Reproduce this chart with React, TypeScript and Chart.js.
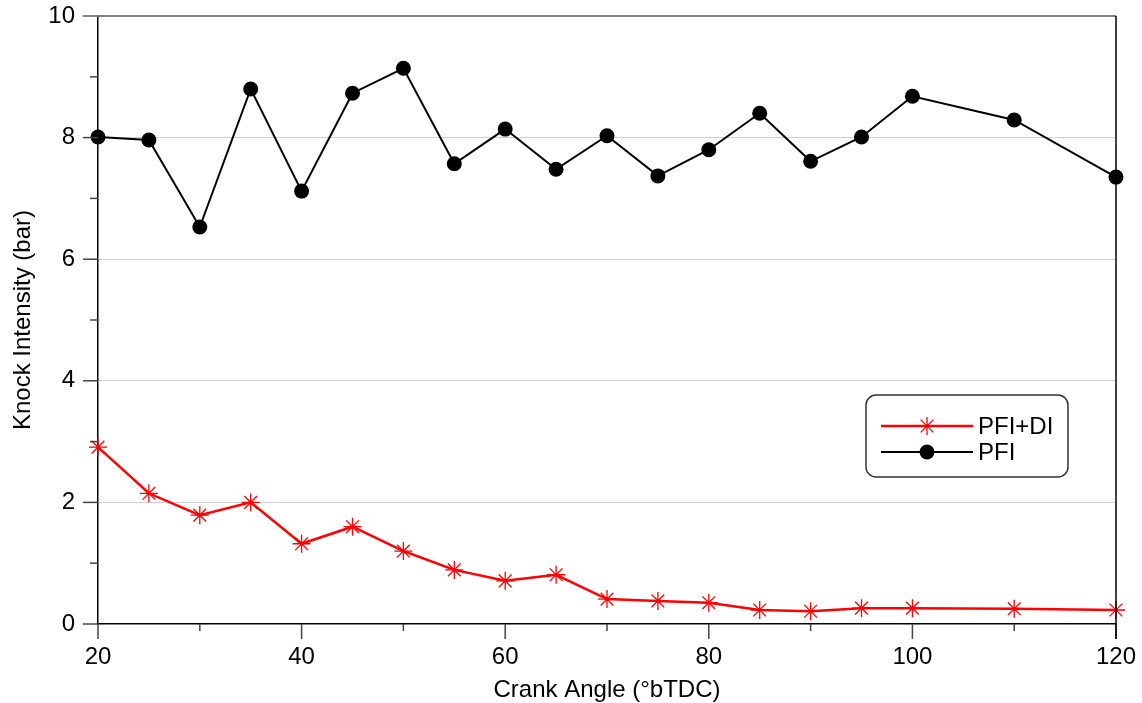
import React, { useEffect, useRef } from 'react';
import { Chart, registerables } from 'chart.js';

Chart.register(...registerables);

const crankAngles = [20, 25, 30, 35, 40, 45, 50, 55, 60, 65, 70, 75, 80, 85, 90, 95, 100, 110, 120];
const pfiDi = [2.91, 2.15, 1.79, 2.0, 1.32, 1.6, 1.2, 0.89, 0.71, 0.81, 0.41, 0.38, 0.35, 0.23, 0.21, 0.26, 0.26, 0.25, 0.23];
const pfi = [8.01, 7.96, 6.53, 8.8, 7.12, 8.73, 9.14, 7.57, 8.14, 7.48, 8.03, 7.37, 7.8, 8.4, 7.61, 8.01, 8.68, 8.29, 7.35];
const seriesNames = ['PFI+DI', 'PFI'];
const xTickValues = [20, 30, 40, 50, 60, 70, 80, 90, 100, 110, 120];
const yTickValues = [0, 1, 2, 3, 4, 5, 6, 7, 8, 9, 10];

const FONT = "'Liberation Sans', Arial, sans-serif";

function drawStar(ctx: CanvasRenderingContext2D, x: number, y: number, r: number) {
  ctx.beginPath();
  for (let i = 0; i < 4; i++) {
    const a = (i * Math.PI) / 4;
    ctx.moveTo(x - r * Math.cos(a), y - r * Math.sin(a));
    ctx.lineTo(x + r * Math.cos(a), y + r * Math.sin(a));
  }
  ctx.stroke();
}

const decorPlugin = {
  id: 'decor',
  afterDraw(chart: any) {
    const ctx: CanvasRenderingContext2D = chart.ctx;
    const xs = chart.scales.x;
    const ys = chart.scales.y;
    const area = chart.chartArea;
    ctx.save();
    ctx.lineWidth = 1.5;
    xTickValues.forEach((v) => {
      const px = xs.getPixelForValue(v);
      const major = v % 20 === 0;
      ctx.strokeStyle = '#444';
      ctx.beginPath();
      ctx.moveTo(px, area.bottom);
      ctx.lineTo(px, area.bottom + (major ? 15 : 7));
      ctx.stroke();
    });
    yTickValues.forEach((v) => {
      const py = ys.getPixelForValue(v);
      const major = v % 2 === 0;
      ctx.strokeStyle = v === 10 ? '#808080' : '#444';
      ctx.lineWidth = v === 10 ? 2 : 1.5;
      ctx.beginPath();
      ctx.moveTo(area.left - (major ? 15 : 8), py);
      ctx.lineTo(area.left, py);
      ctx.stroke();
    });
    ctx.strokeStyle = '#000';
    ctx.lineWidth = 1.5;
    ctx.beginPath();
    ctx.moveTo(area.right, area.top);
    ctx.lineTo(area.right, area.bottom + 15);
    ctx.stroke();

    const bx = 866, by = 395, bw = 202, bh = 82, rr = 10;
    ctx.beginPath();
    ctx.moveTo(bx + rr, by);
    ctx.lineTo(bx + bw - rr, by);
    ctx.arcTo(bx + bw, by, bx + bw, by + rr, rr);
    ctx.lineTo(bx + bw, by + bh - rr);
    ctx.arcTo(bx + bw, by + bh, bx + bw - rr, by + bh, rr);
    ctx.lineTo(bx + rr, by + bh);
    ctx.arcTo(bx, by + bh, bx, by + bh - rr, rr);
    ctx.lineTo(bx, by + rr);
    ctx.arcTo(bx, by, bx + rr, by, rr);
    ctx.closePath();
    ctx.fillStyle = '#fff';
    ctx.fill();
    ctx.strokeStyle = '#333';
    ctx.lineWidth = 1.5;
    ctx.stroke();

    const rows = [426, 452];
    ctx.strokeStyle = '#ff0000';
    ctx.lineWidth = 2.5;
    ctx.beginPath();
    ctx.moveTo(881, rows[0]);
    ctx.lineTo(973, rows[0]);
    ctx.stroke();
    ctx.lineWidth = 1.3;
    drawStar(ctx, 927, rows[0], 9);
    ctx.strokeStyle = '#000';
    ctx.lineWidth = 2;
    ctx.beginPath();
    ctx.moveTo(881, rows[1]);
    ctx.lineTo(973, rows[1]);
    ctx.stroke();
    ctx.fillStyle = '#000';
    ctx.beginPath();
    ctx.arc(927, rows[1], 7.5, 0, Math.PI * 2);
    ctx.fill();

    ctx.fillStyle = '#000';
    ctx.font = `24px ${FONT}`;
    ctx.textAlign = 'left';
    ctx.textBaseline = 'middle';
    ctx.fillText(seriesNames[0], 978, rows[0] + 1);
    ctx.fillText(seriesNames[1], 978, rows[1] + 1);
    ctx.restore();
  },
};

export default function App() {
  const ref = useRef<HTMLCanvasElement | null>(null);
  useEffect(() => {
    if (!ref.current) return;
    const chart = new Chart(ref.current, {
      type: 'line',
      data: {
        datasets: [
          {
            label: seriesNames[0],
            data: crankAngles.map((x, i) => ({ x, y: pfiDi[i] })),
            borderColor: '#ff0000',
            backgroundColor: 'transparent',
            borderWidth: 2.5,
            pointStyle: 'star',
            pointRadius: 9,
            pointBorderWidth: 1.3,
            pointBorderColor: '#ff0000',
            pointBackgroundColor: 'transparent',
            tension: 0,
            clip: false,
          },
          {
            label: seriesNames[1],
            data: crankAngles.map((x, i) => ({ x, y: pfi[i] })),
            borderColor: '#000',
            backgroundColor: '#000',
            borderWidth: 2,
            pointStyle: 'circle',
            pointRadius: 7.5,
            pointBorderWidth: 0,
            pointBackgroundColor: '#000',
            tension: 0,
            clip: false,
          },
        ],
      },
      options: {
        responsive: false,
        animation: false,
        events: [],
        layout: { padding: { top: 16, right: 26, left: 0, bottom: 0 } },
        plugins: { legend: { display: false }, tooltip: { enabled: false } },
        scales: {
          x: {
            type: 'linear',
            min: 20,
            max: 120,
            afterFit: (s: any) => { s.height = 79; s.paddingLeft = 0; s.paddingRight = 0; },
            ticks: {
              stepSize: 20,
              autoSkip: false,
              maxRotation: 0,
              padding: 11,
              color: '#000',
              font: { family: FONT, size: 24 },
            },
            grid: { display: false },
            border: { display: true, color: '#000', width: 1.5 },
            title: {
              display: true,
              text: 'Crank Angle (°bTDC)',
              color: '#000',
              font: { family: FONT, size: 24 },
              padding: { top: 0, bottom: -2 },
            },
          },
          y: {
            min: 0,
            max: 10,
            afterFit: (s: any) => { s.width = 98; s.paddingTop = 0; s.paddingBottom = 0; },
            ticks: {
              stepSize: 2,
              padding: 23,
              color: '#000',
              font: { family: FONT, size: 24 },
            },
            grid: {
              drawTicks: false,
              color: (c: any) => (c.tick && c.tick.value === 10 ? '#808080' : c.tick && c.tick.value === 0 ? 'rgba(0,0,0,0)' : '#d0d0d0'),
              lineWidth: (c: any) => (c.tick && c.tick.value === 10 ? 2 : 1),
            },
            border: { display: true, color: '#000', width: 1.5 },
            title: {
              display: true,
              text: 'Knock Intensity (bar)',
              color: '#000',
              font: { family: FONT, size: 24 },
              padding: { top: 9, bottom: 0 },
            },
          },
        },
      },
      plugins: [decorPlugin],
    });
    return () => chart.destroy();
  }, []);
  return (
    <div style={{ position: 'fixed', left: 0, top: 0, width: 1142, height: 703, background: '#fff' }}>
      <canvas ref={ref} width={1142} height={703} style={{ width: 1142, height: 703, display: 'block' }} />
    </div>
  );
}
